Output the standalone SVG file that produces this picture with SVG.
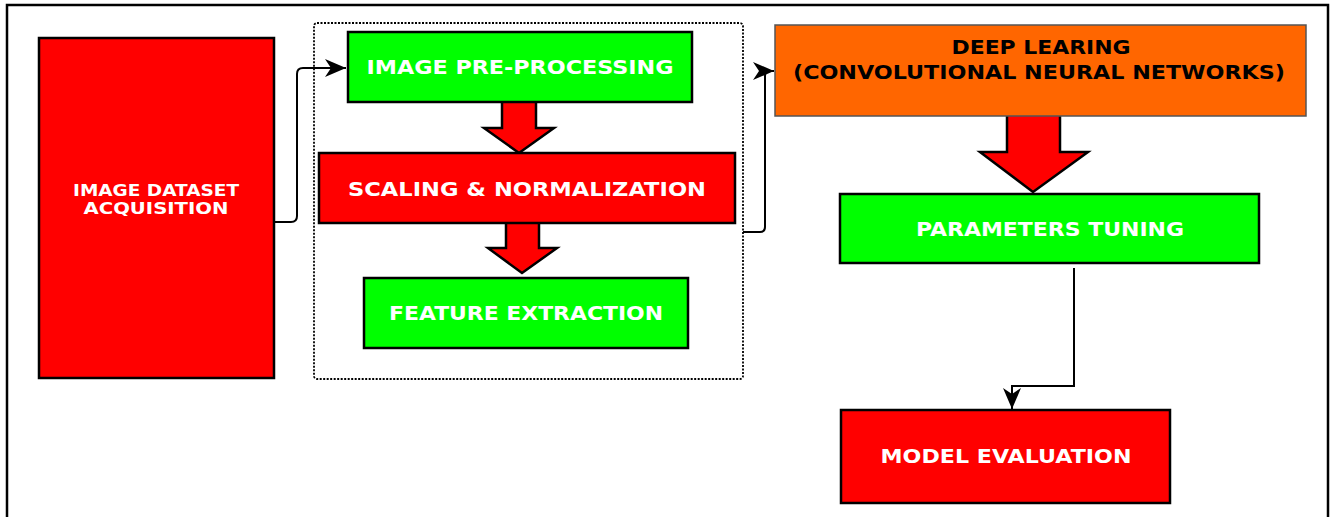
<svg xmlns="http://www.w3.org/2000/svg" width="1331" height="517" viewBox="0 0 1331 517">
<defs>
<style>
.box{stroke:#000;stroke-width:2.5}
.red{fill:#ff0000}
.green{fill:#00ff00}
.orange{fill:#ff6600;stroke:#555;stroke-width:1.5}
.lbl{font-family:"DejaVu Sans","Verdana",sans-serif;font-weight:bold;font-size:19px;fill:#fff;text-anchor:middle}
.lbl-s{font-size:16px}
.dark{fill:#000}
.conn{fill:none;stroke:#000;stroke-width:2}
.barrow{fill:#ff0000;stroke:#000;stroke-width:2.5;stroke-linejoin:miter}
</style>
<marker id="arr" markerUnits="userSpaceOnUse" markerWidth="24" markerHeight="20" refX="21" refY="9" orient="auto" viewBox="0 0 24 20">
<path d="M0,0 L21,9 L0,18 L6,9 z" fill="#000"/>
</marker>
</defs>
<rect x="7" y="5" width="1321" height="530" fill="#fff" stroke="#000" stroke-width="2.5"/>

<g id="group-preprocessing">
<rect x="314" y="23" width="429" height="356" rx="3" fill="none" stroke="#000" stroke-width="1.8" stroke-dasharray="2,1.5"/>
</g>

<g id="connectors">
<path class="conn" d="M274,222 H291 Q297,222 297,216 V74 Q297,68 303,68 H346" marker-end="url(#arr)"/>
<path class="conn" d="M743,232 H760 Q765,232 765,227 V76 Q765,71 770,71 H774" marker-end="url(#arr)"/>
<path class="conn" d="M1074,268 V386 H1012 V409" marker-end="url(#arr)"/>
<path class="barrow" d="M502,102 V128 H484 L519,153 L554,128 H536 V102"/>
<path class="barrow" d="M506,223 V248 H488 L522,273 L557,248 H539 V223"/>
<path class="barrow" d="M1007,116 V152 H980 L1033,192 L1088,152 H1060 V116"/>
</g>

<g id="node-acquisition">
<rect class="box red" x="39" y="38" width="235" height="340"/>
<text class="lbl lbl-s" x="156" y="196" textLength="166" lengthAdjust="spacingAndGlyphs">IMAGE DATASET</text>
<text class="lbl lbl-s" x="156" y="214" textLength="145" lengthAdjust="spacingAndGlyphs">ACQUISITION</text>
</g>

<g id="node-preprocessing">
<rect class="box green" x="348" y="32" width="344" height="70"/>
<text class="lbl" x="520" y="74" textLength="307" lengthAdjust="spacingAndGlyphs">IMAGE PRE-PROCESSING</text>
</g>

<g id="node-scaling">
<rect class="box red" x="319" y="153" width="416" height="70"/>
<text class="lbl" x="527" y="196" textLength="358" lengthAdjust="spacingAndGlyphs">SCALING &amp; NORMALIZATION</text>
</g>

<g id="node-feature">
<rect class="box green" x="364" y="278" width="324" height="70"/>
<text class="lbl" x="526" y="320" textLength="274" lengthAdjust="spacingAndGlyphs">FEATURE EXTRACTION</text>
</g>

<g id="node-deep">
<rect class="orange" x="775" y="25" width="531" height="91"/>
<text class="lbl dark" x="1041" y="54" textLength="179" lengthAdjust="spacingAndGlyphs">DEEP LEARING</text>
<text class="lbl dark" x="1039" y="79" textLength="492" lengthAdjust="spacingAndGlyphs">(CONVOLUTIONAL NEURAL NETWORKS)</text>
</g>

<g id="node-tuning">
<rect class="box green" x="840" y="194" width="419" height="69"/>
<text class="lbl" x="1050" y="236" textLength="268" lengthAdjust="spacingAndGlyphs">PARAMETERS TUNING</text>
</g>

<g id="node-evaluation">
<rect class="box red" x="841" y="410" width="329" height="93"/>
<text class="lbl" x="1006" y="463" textLength="251" lengthAdjust="spacingAndGlyphs">MODEL EVALUATION</text>
</g>
</svg>
